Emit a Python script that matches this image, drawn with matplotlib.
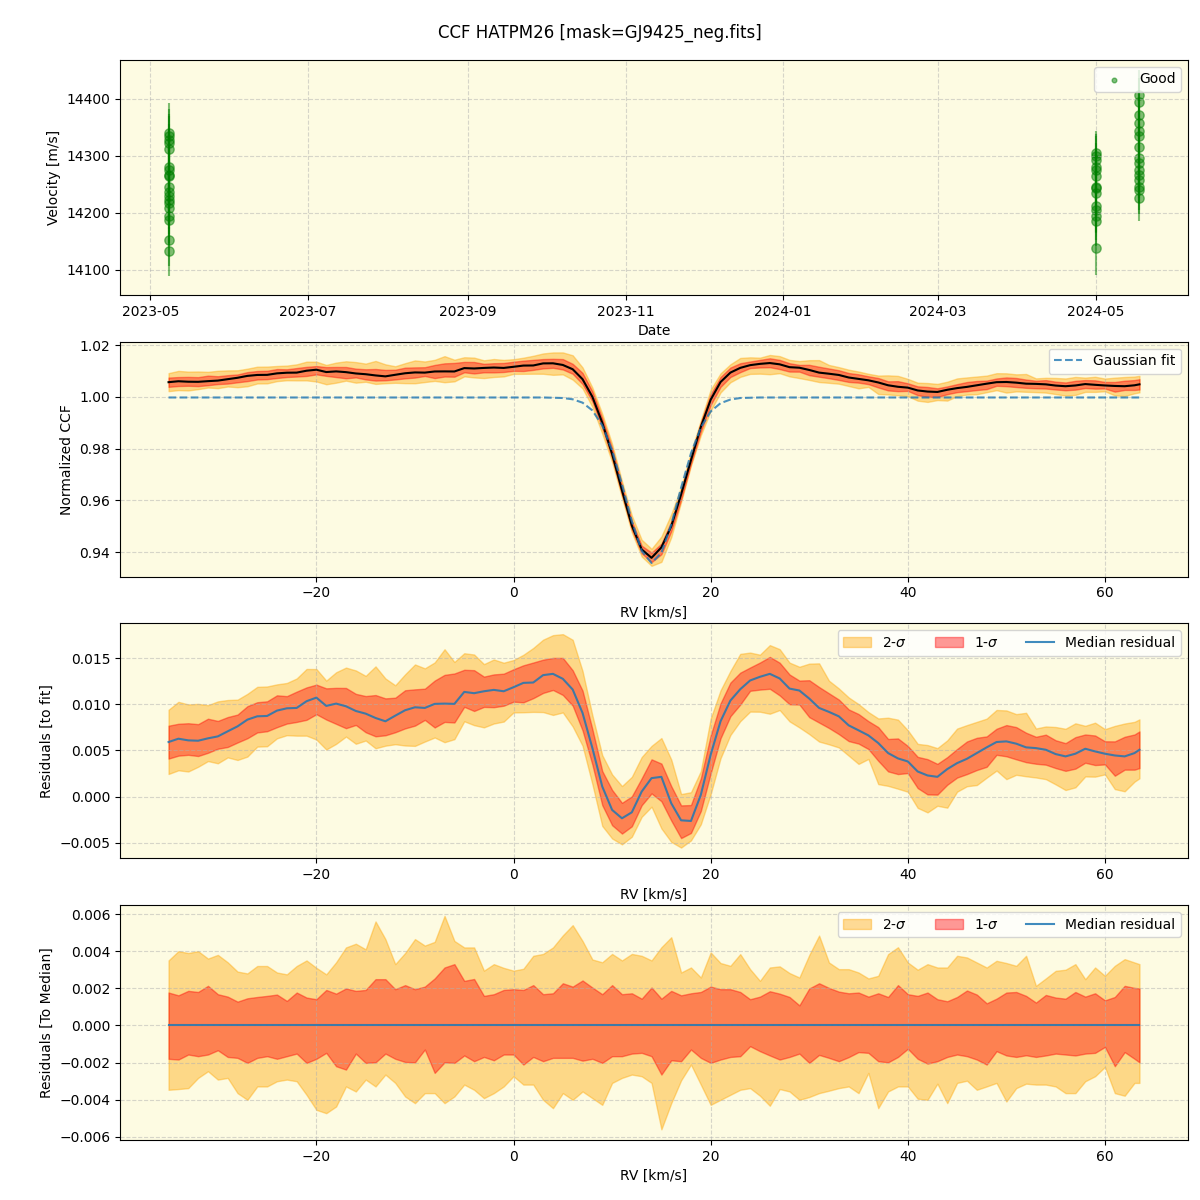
import numpy as np
import pandas as pd
import matplotlib
matplotlib.use("Agg")
import matplotlib.pyplot as plt
from matplotlib.ticker import MultipleLocator


# --- Radial velocities per night (top panel) ---
nights = ["2023-05-08", "2024-05-01", "2024-05-18"]
vel_night1 = [14340, 14334, 14328, 14322, 14311, 14281, 14275, 14267, 14264, 14246,
              14237, 14229, 14223, 14217, 14208, 14194, 14188, 14153, 14132]
err_night1 = [52, 48, 45, 47, 44, 46, 45, 43, 47, 44, 46, 45, 44, 46, 45, 47, 44, 46, 43]
vel_night2 = [14305, 14299, 14293, 14281, 14275, 14264, 14246, 14243, 14235, 14211,
              14205, 14194, 14185, 14138]
err_night2 = [38, 40, 42, 41, 39, 43, 40, 42, 41, 44, 40, 42, 43, 47]
vel_night3 = [14407, 14395, 14372, 14357, 14343, 14334, 14316, 14296, 14287, 14275,
              14267, 14258, 14246, 14240, 14226]
err_night3 = [44, 42, 43, 41, 42, 43, 40, 42, 41, 43, 42, 41, 42, 43, 41]

# --- CCF grid (km/s) ---
rv_kms = np.r_[np.arange(-35.0, 64.0), 63.5]

# Gaussian fit to the median CCF
gauss_fit = [0.9998] * 39 + [
    0.9997, 0.9996, 0.9991, 0.9978, 0.9948, 0.9890, 0.9794, 0.9663, 0.9520, 0.9405,
    0.9358, 0.9397, 0.9507, 0.9649, 0.9782, 0.9882, 0.9944, 0.9976, 0.9990, 0.9996,
    0.9997] + [0.9998] * 40

# Median residual to the fit (x 1e-3)
resid_med = [
    5.92, 6.28, 6.10, 6.06, 6.32, 6.53, 7.08, 7.62, 8.35, 8.71,
    8.75, 9.33, 9.58, 9.62, 10.35, 10.74, 9.84, 10.09, 9.80, 9.29,
    9.00, 8.53, 8.17, 8.78, 9.37, 9.69, 9.62, 10.06, 10.09, 10.06,
    11.36, 11.22, 11.43, 11.58, 11.43, 11.87, 12.34, 12.38, 13.18, 13.32,
    12.78, 11.62, 9.08, 5.26, 1.09, -1.45, -2.36, -1.71, 0.54, 2.00,
    2.14, -0.73, -2.58, -2.65, 0.18, 4.54, 8.17, 10.42, 11.65, 12.60,
    13.00, 13.32, 12.82, 11.72, 11.51, 10.64, 9.62, 9.19, 8.71, 7.73,
    7.19, 6.64, 5.81, 4.72, 4.14, 3.81, 2.72, 2.29, 2.14, 2.98,
    3.63, 4.10, 4.72, 5.34, 5.92, 5.99, 5.74, 5.34, 5.26, 5.08,
    4.61, 4.36, 4.65, 5.19, 4.90, 4.65, 4.46, 4.36, 4.72, 5.08]

# Percentile bands relative to the median (x 1e-3)
upper_2sig = [
    3.5, 4.0, 3.9, 4.0, 3.6, 3.8, 3.4, 2.9, 2.8, 3.2,
    3.2, 2.85, 2.75, 3.2, 3.5, 3.1, 2.75, 3.4, 4.2, 4.4,
    4.1, 5.6, 4.65, 3.3, 3.9, 4.65, 4.3, 4.5, 5.9, 4.55,
    4.2, 4.2, 2.95, 3.3, 3.1, 2.95, 3.05, 3.75, 3.85, 4.2,
    4.85, 5.4, 4.55, 3.55, 3.4, 3.85, 3.5, 3.85, 3.75, 3.5,
    4.21, 4.75, 2.85, 3.12, 2.58, 3.93, 3.36, 3.21, 3.84, 3.03,
    2.40, 3.12, 3.18, 2.82, 2.58, 3.79, 4.84, 3.39, 3.03, 3.03,
    2.85, 2.53, 2.67, 3.84, 4.21, 3.39, 3.00, 3.30, 3.12, 3.12,
    3.75, 3.66, 3.39, 3.12, 3.48, 3.36, 3.21, 3.75, 2.13, 2.53,
    2.94, 3.00, 3.30, 2.49, 3.12, 2.67, 3.21, 3.57, 3.39, 3.30]
upper_1sig = [
    1.77, 1.62, 1.86, 1.80, 2.13, 1.68, 1.55, 1.28, 1.46, 1.53,
    1.59, 1.66, 1.32, 1.77, 1.50, 1.41, 1.91, 1.71, 1.99, 1.86,
    1.91, 2.49, 2.49, 1.95, 2.17, 1.95, 2.09, 2.53, 3.12, 3.30,
    2.40, 2.50, 1.59, 1.68, 1.91, 1.95, 1.91, 2.17, 1.68, 1.73,
    2.27, 2.09, 2.42, 2.04, 1.68, 2.17, 1.68, 1.73, 1.44, 2.04,
    1.44, 1.86, 1.62, 1.73, 1.80, 2.09, 1.95, 1.95, 1.80, 1.41,
    1.55, 1.84, 1.71, 1.53, 1.08, 1.99, 2.27, 2.02, 1.82, 1.73,
    1.77, 1.55, 1.73, 1.53, 2.17, 1.68, 1.59, 1.77, 1.41, 1.30,
    1.53, 1.88, 1.66, 1.19, 1.44, 1.77, 1.80, 1.59, 1.23, 1.64,
    1.50, 1.44, 1.80, 1.55, 1.73, 1.35, 1.53, 2.13, 2.02, 1.99]
lower_1sig = [
    -1.80, -1.84, -1.57, -1.66, -1.57, -1.34, -1.70, -1.75, -2.02, -1.75,
    -1.66, -1.80, -1.66, -1.52, -2.02, -1.80, -1.48, -2.20, -2.38, -1.52,
    -2.02, -1.99, -1.52, -1.80, -1.97, -1.99, -1.30, -2.56, -1.99, -2.02,
    -1.62, -1.93, -1.70, -1.88, -1.57, -1.57, -2.11, -1.70, -1.93, -1.75,
    -1.75, -1.75, -1.90, -1.80, -2.02, -1.66, -1.66, -1.52, -1.48, -1.66,
    -2.65, -1.88, -1.93, -1.30, -1.75, -2.02, -1.84, -1.70, -1.66, -1.12,
    -1.39, -1.62, -1.84, -1.70, -1.52, -2.02, -1.59, -1.75, -1.93, -1.71,
    -1.44, -1.48, -1.93, -1.99, -1.70, -1.26, -1.80, -2.06, -1.93, -1.70,
    -1.57, -1.66, -1.84, -2.11, -1.39, -1.62, -1.70, -1.61, -1.70, -1.62,
    -1.52, -1.57, -1.62, -1.52, -1.48, -1.16, -2.20, -1.44, -1.80, -1.99]
lower_2sig = [
    -3.47, -3.43, -3.38, -2.83, -2.47, -2.92, -2.83, -3.65, -4.01, -3.29,
    -3.29, -3.01, -2.92, -3.01, -3.74, -4.55, -4.73, -4.37, -3.29, -3.56,
    -2.92, -3.29, -2.65, -3.10, -3.83, -4.19, -3.65, -3.65, -4.19, -3.83,
    -3.19, -3.47, -3.92, -3.65, -3.29, -2.74, -3.19, -3.19, -4.01, -4.46,
    -3.65, -4.01, -3.56, -3.92, -4.28, -3.10, -2.83, -2.65, -2.74, -3.10,
    -5.60, -4.19, -2.96, -2.11, -3.19, -4.28, -4.01, -3.74, -3.47, -3.38,
    -3.79, -4.33, -3.43, -3.56, -4.01, -3.86, -3.65, -3.52, -3.38, -3.29,
    -3.65, -2.56, -4.46, -3.56, -3.29, -3.29, -3.95, -4.01, -3.14, -4.19,
    -3.10, -2.98, -3.47, -3.29, -3.10, -4.10, -3.38, -3.14, -3.19, -3.19,
    -3.29, -3.65, -3.65, -3.01, -2.74, -2.24, -3.65, -3.79, -3.10, -3.10]

BG = "#fdfbe2"


# Dibuja las bandas de 1 y 2 sigma alrededor de una curva central
def draw_bands(ax, center, labels=True):
    u2 = center + np.array(upper_2sig) * 1e-3
    l2 = center + np.array(lower_2sig) * 1e-3
    u1 = center + np.array(upper_1sig) * 1e-3
    l1 = center + np.array(lower_1sig) * 1e-3
    ax.fill_between(rv_kms, l2, u2, color="orange", alpha=0.4,
                    label=r"2-$\sigma$" if labels else None)
    ax.fill_between(rv_kms, l1, u1, color="red", alpha=0.4,
                    label=r"1-$\sigma$" if labels else None)


def style_axis(ax):
    ax.set_facecolor(BG)
    ax.grid(True, linestyle="--", alpha=0.5)


def main():
    fig, axes = plt.subplots(4, 1, figsize=(12, 12))
    fig.subplots_adjust(left=0.1, right=0.99, top=0.95, bottom=0.05, hspace=0.2)
    fig.suptitle("CCF HATPM26 [mask=GJ9425_neg.fits]", fontsize=12, y=0.98)

    # Panel 1: velocidades
    ax = axes[0]
    vels = vel_night1 + vel_night2 + vel_night3
    errs = err_night1 + err_night2 + err_night3
    dates = pd.to_datetime([nights[0]] * len(vel_night1) + [nights[1]] * len(vel_night2)
                           + [nights[2]] * len(vel_night3))
    ax.errorbar(dates, vels, yerr=errs, fmt="none", ecolor="green", alpha=0.5, elinewidth=1.5)
    ax.scatter(dates, vels, s=45, color="green", alpha=0.5, label="Good")
    ax.set_ylim(14056, 14468)
    ax.yaxis.set_major_locator(MultipleLocator(100))
    ax.set_ylabel("Velocity [m/s]")
    ax.set_xlabel("Date")
    ax.legend(loc="upper right", markerscale=0.5)
    style_axis(ax)

    fit = np.array(gauss_fit)
    resid = np.array(resid_med) * 1e-3
    ccf_med = fit + resid

    # Panel 2: CCF mediana con ajuste gaussiano
    ax = axes[1]
    draw_bands(ax, ccf_med, labels=False)
    ax.plot(rv_kms, ccf_med, color="black", lw=1.5)
    ax.plot(rv_kms, fit, "--", color="C0", lw=1.5, alpha=0.8, label="Gaussian fit")
    ax.set_ylabel("Normalized CCF")
    ax.set_xlabel("RV [km/s]")
    ax.legend(loc="upper right")
    style_axis(ax)

    # Panel 3: residuos respecto al ajuste
    ax = axes[2]
    draw_bands(ax, resid)
    ax.plot(rv_kms, resid, color="C0", lw=1.5, alpha=0.85, label="Median residual")
    ax.set_ylabel("Residuals [to fit]")
    ax.set_xlabel("RV [km/s]")
    ax.legend(loc="upper right", ncol=3)
    style_axis(ax)

    # Panel 4: residuos respecto a la mediana
    ax = axes[3]
    zero = np.zeros_like(rv_kms)
    draw_bands(ax, zero)
    ax.plot(rv_kms, zero, color="C0", lw=1.5, alpha=0.85, label="Median residual")
    ax.set_ylabel("Residuals [To Median]")
    ax.set_xlabel("RV [km/s]")
    ax.legend(loc="upper right", ncol=3)
    style_axis(ax)

    fig.savefig("out.png", dpi=100)
    plt.close(fig)


if __name__ == "__main__":
    main()
